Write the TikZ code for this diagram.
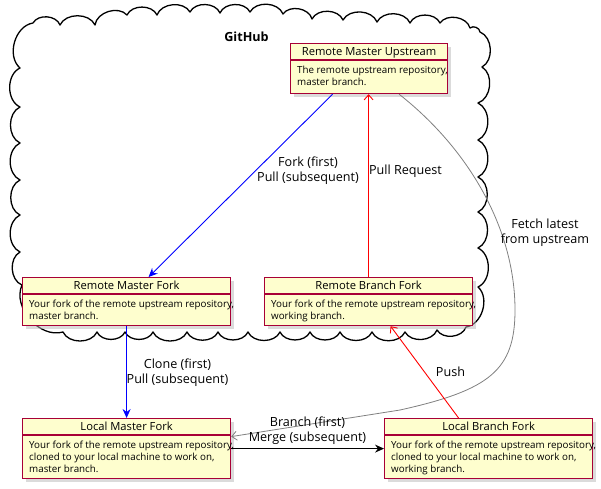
\documentclass[tikz,border=0pt]{standalone}
\usepackage{fontspec}
\setmainfont{Open Sans}
\usetikzlibrary{arrows.meta,shadows}
\definecolor{boxfill}{HTML}{FEFECE}
\definecolor{boxborder}{HTML}{A80036}
\definecolor{edgegray}{HTML}{808080}
\tikzset{
  box/.style={draw=boxborder, fill=boxfill, line width=1.2pt, anchor=north west, inner sep=0pt,
    drop shadow={shadow xshift=3.5pt, shadow yshift=-3.5pt, fill=black!28}},
  boxline/.style={draw=boxborder, line width=1.2pt},
  titletext/.style={anchor=base, inner sep=0pt, font=\fontsize{11.2}{13}\selectfont},
  bodytext/.style={anchor=north west, inner sep=0pt, align=left, font=\fontsize{9.8}{12}\selectfont},
  lbl/.style={inner sep=0pt, align=center, font=\fontsize{12.6}{15}\selectfont},
  cloudline/.style={draw=black, line width=1.3pt, fill=white, line join=round},
  blueedge/.style={draw=blue, line width=0.9pt, -{Stealth[length=9pt,width=8pt,inset=3pt]}},
  blackedge/.style={draw=black, line width=0.9pt, -{Stealth[length=9pt,width=8pt,inset=3pt]}},
  rededge/.style={draw=red, line width=0.9pt, -{Straight Barb[length=5pt,width=9pt]}},
  grayedge/.style={draw=edgegray, line width=0.8pt, -{Straight Barb[length=5pt,width=9pt]}},
}
\begin{document}
\begin{tikzpicture}[x=1pt,y=-1pt]
\useasboundingbox (0,0) rectangle (601,488);

% cloud
\draw[cloudline] (33,23)
  foreach \x/\y in {60/25, 95/25, 127/15, 157/15, 190/12, 220/13, 250/12, 283/14, 312/19,
    343/20, 377/22, 410/23, 440/23, 470/28, 480/32, 482/67, 478/103, 478/140, 478/177,
    478/212, 478/248, 478/287, 466/327, 437/330, 405/332, 372/332, 340/332, 310/332,
    280/332, 248/332, 218/332, 187/332, 153/332, 125/332, 97/332, 63/332, 22/285,
    20/252, 20/215, 20/180, 20/143, 20/107, 20/68, 33/23} { to[bend left=65] (\x,\y) };
\node[anchor=base, inner sep=0pt, font=\fontsize{12.6}{15}\selectfont\bfseries] (github) at (246.5,41.7) {GitHub};

% boxes
\node[box, minimum width=157pt, minimum height=50pt] (rmu) at (290,43) {};
\draw[boxline] ([yshift=-17pt]rmu.north west) -- ([yshift=-17pt]rmu.north east);
\node[titletext] (rmu-t) at ([yshift=-12.5pt]rmu.north) {Remote Master Upstream};
\node[bodytext] (rmu-b) at ([xshift=7pt,yshift=-17pt]rmu.north west)
  {\rule{0pt}{13.3pt}The remote upstream repository,\\master branch.};

\node[box, minimum width=208pt, minimum height=48pt] (rmf) at (22,277) {};
\draw[boxline] ([yshift=-17pt]rmf.north west) -- ([yshift=-17pt]rmf.north east);
\node[titletext] (rmf-t) at ([yshift=-12.5pt]rmf.north) {Remote Master Fork};
\node[bodytext] (rmf-b) at ([xshift=7pt,yshift=-17pt]rmf.north west)
  {\rule{0pt}{13.3pt}Your fork of the remote upstream repository,\\master branch.};

\node[box, minimum width=208pt, minimum height=48pt] (rbf) at (264,277) {};
\draw[boxline] ([yshift=-17pt]rbf.north west) -- ([yshift=-17pt]rbf.north east);
\node[titletext] (rbf-t) at ([yshift=-12.5pt]rbf.north) {Remote Branch Fork};
\node[bodytext] (rbf-b) at ([xshift=7pt,yshift=-17pt]rbf.north west)
  {\rule{0pt}{13.3pt}Your fork of the remote upstream repository,\\working branch.};

\node[box, minimum width=208pt, minimum height=60pt] (lmf) at (22,418) {};
\draw[boxline] ([yshift=-17pt]lmf.north west) -- ([yshift=-17pt]lmf.north east);
\node[titletext] (lmf-t) at ([yshift=-12.5pt]lmf.north) {Local Master Fork};
\node[bodytext] (lmf-b) at ([xshift=7pt,yshift=-17pt]lmf.north west)
  {\rule{0pt}{13.3pt}Your fork of the remote upstream repository,\\cloned to your local machine to work on,\\master branch.};

\node[box, minimum width=208pt, minimum height=60pt] (lbf) at (384,418) {};
\draw[boxline] ([yshift=-17pt]lbf.north west) -- ([yshift=-17pt]lbf.north east);
\node[titletext] (lbf-t) at ([yshift=-12.5pt]lbf.north) {Local Branch Fork};
\node[bodytext] (lbf-b) at ([xshift=7pt,yshift=-17pt]lbf.north west)
  {\rule{0pt}{13.3pt}Your fork of the remote upstream repository,\\cloned to your local machine to work on,\\working branch.};

% connectors
\draw[blueedge] ([xshift=-36.5pt]rmu.south) -- ([xshift=22pt]rmf.north);
\draw[rededge] (rbf.north) -- (rbf.north |- rmu.south);
\coordinate (g1) at (400,410);
\draw[grayedge] ([xshift=30pt]rmu.south) .. controls (470,150) and (515,230) .. (515,310)
  .. controls (515,370) and (490,390) .. (g1) -- ([yshift=12pt]lmf.east);
\draw[blueedge] (rmf.south) -- (lmf.north);
\draw[blackedge] (lmf.east) -- (lbf.west);
\draw[rededge] ([xshift=-30pt]lbf.north) -- ([xshift=22pt]rbf.south);

% labels
\node[lbl, anchor=north] (l-fork) at (308,155) {\rule{0pt}{11pt}Fork (first)\\Pull (subsequent)};
\node[lbl, anchor=base] (l-pr) at (405.5,174) {Pull Request};
\node[lbl, anchor=north] (l-fetch) at (545,217.3) {\rule{0pt}{11pt}Fetch latest\\from upstream};
\node[lbl, anchor=north] (l-clone) at (177.5,357.3) {\rule{0pt}{11pt}Clone (first)\\Pull (subsequent)};
\node[lbl, anchor=north] (l-branch) at (307.5,415) {\rule{0pt}{11pt}Branch (first)\\Merge (subsequent)};
\node[lbl, anchor=base] (l-push) at (450.5,376.7) {Push};
\end{tikzpicture}
\end{document}
